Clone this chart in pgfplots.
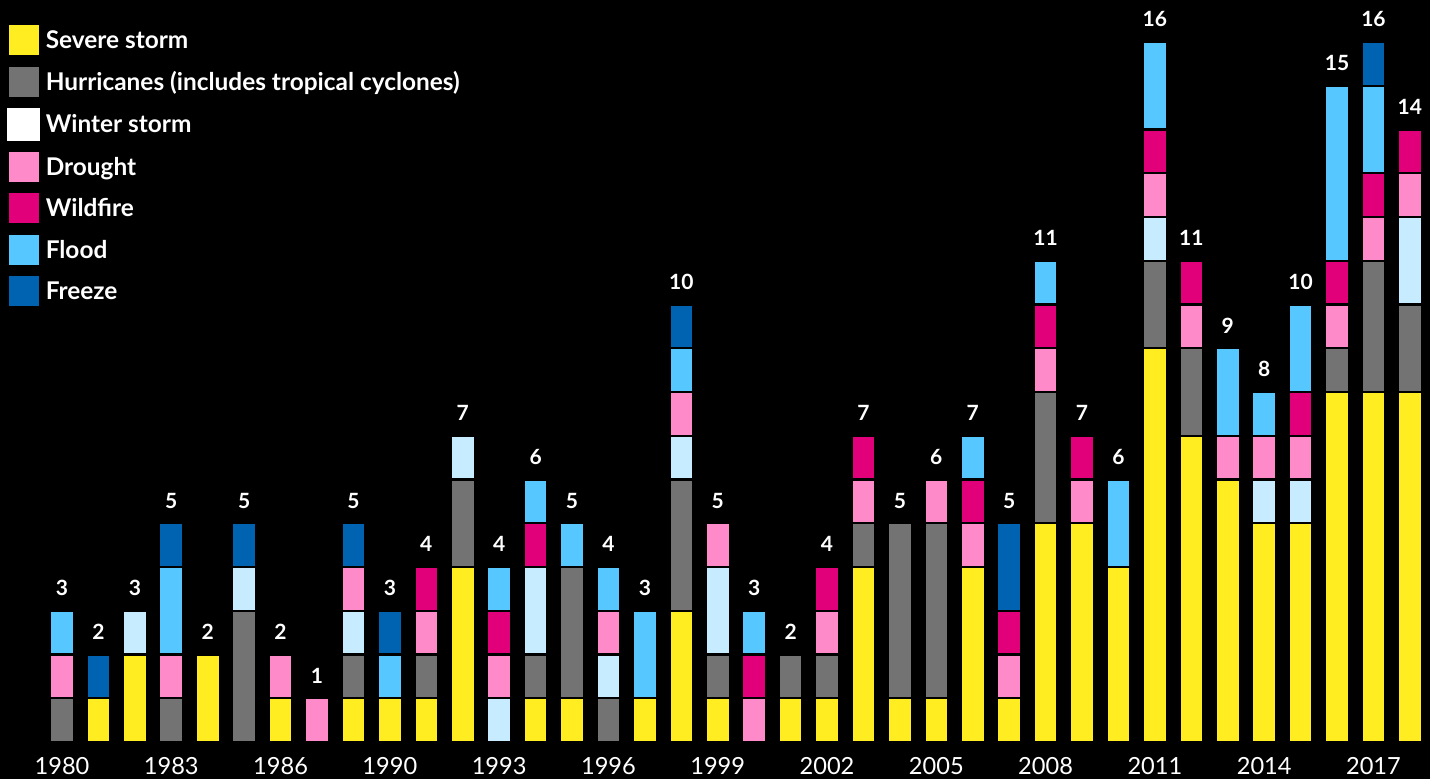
\documentclass[border=0pt]{standalone}
\usepackage{pgfplots}
\usepackage{pgfplotstable}
\pgfplotsset{compat=1.18}
\usepackage{fontspec}
\setmainfont{Lato}

\definecolor{cStorm}{HTML}{FFED22}
\definecolor{cHurr}{HTML}{727372}
\definecolor{cWinter}{HTML}{C8ECFF}
\definecolor{cDrought}{HTML}{FF8AC9}
\definecolor{cFire}{HTML}{E2007A}
\definecolor{cFlood}{HTML}{56C8FF}
\definecolor{cFreeze}{HTML}{0063B2}

% events per year, one column per type; T = total shown above the bar
\pgfplotstableread{
x  S H W D Wf Fl Fr T
0  0 1 0 1 0 1 0 3
1  1 0 0 0 0 0 1 2
2  2 0 1 0 0 0 0 3
3  0 1 0 1 0 2 1 5
4  2 0 0 0 0 0 0 2
5  0 3 1 0 0 0 1 5
6  1 0 0 1 0 0 0 2
7  0 0 0 1 0 0 0 1
8  1 1 1 1 0 0 1 5
9  1 0 0 0 0 1 1 3
10 1 1 0 1 1 0 0 4
11 4 2 1 0 0 0 0 7
12 0 0 1 1 1 1 0 4
13 1 1 2 0 1 1 0 6
14 1 3 0 0 0 1 0 5
15 0 1 1 1 0 1 0 4
16 1 0 0 0 0 2 0 3
17 3 3 1 1 0 1 1 10
18 1 1 2 1 0 0 0 5
19 0 0 0 1 1 1 0 3
20 1 1 0 0 0 0 0 2
21 1 1 0 1 1 0 0 4
22 4 1 0 1 1 0 0 7
23 1 4 0 0 0 0 0 5
24 1 4 0 1 0 0 0 6
25 4 0 0 1 1 1 0 7
26 1 0 0 1 1 0 2 5
27 5 3 0 1 1 1 0 11
28 5 0 0 1 1 0 0 7
29 4 0 0 0 0 2 0 6
30 9 2 1 1 1 2 0 16
31 7 2 0 1 1 0 0 11
32 6 0 0 1 0 2 0 9
33 5 0 1 1 0 1 0 8
34 5 0 1 1 1 2 0 10
35 8 1 0 1 1 4 0 15
36 8 3 0 1 1 2 1 16
37 8 2 2 1 1 0 0 14
}\events

\pgfplotsset{frame/.style={
  at={(0pt,0pt)}, anchor=south west,
  scale only axis, width=715pt, height=371pt,
  xmin=-1.702, xmax=37.552, ymin=0, ymax=16.96,
  clip=false,
  /pgf/number format/assume math mode=true}}

\begin{document}
\begin{tikzpicture}
\path[fill=black, use as bounding box] (0pt,-18.5pt) rectangle (715pt,371pt);
\begin{axis}[
  frame,
  ybar stacked, bar width=12pt,
  axis line style={draw=none},
  major tick length=0pt,
  ytick=\empty,
  xtick={0,3,...,36},
  xticklabels={1980,1983,1986,1990,1993,1996,1999,2002,2005,2008,2011,2014,2017},
  xticklabel style={anchor=base, yshift=-16.5pt, text=white,
    font=\fontsize{11.8}{12}\selectfont},
  every axis plot/.append style={draw=black, line width=1.2pt},
  legend image code/.code={\fill[#1, draw=none] (0pt,-7.5pt) rectangle (15pt,7.5pt);},
  legend cell align=left,
  legend style={draw=none, fill=none, text=white,
    font=\bfseries\fontsize{12.2}{13}\selectfont,
    at={(0,1)}, anchor=north west, xshift=3.5pt, yshift=-12.5pt,
    inner sep=0pt, row sep=5.7pt,
    nodes={inner sep=0pt, text height=11.8pt, text depth=3.2pt},
    /tikz/column 1/.style={column sep=3pt}},
]
\addplot[fill=cStorm] table[x=x, y=S] {\events};
\addplot[fill=cHurr] table[x=x, y=H] {\events};
\addplot[fill=cWinter,
  legend image code/.code={\fill[white] (0pt,-7.5pt) rectangle (15pt,7.5pt);}]
  table[x=x, y=W] {\events};
\addplot[fill=cDrought] table[x=x, y=D] {\events};
\addplot[fill=cFire] table[x=x, y=Wf] {\events};
\addplot[fill=cFlood] table[x=x, y=Fl] {\events};
\addplot[fill=cFreeze] table[x=x, y=Fr] {\events};
\legend{Severe storm, Hurricanes (includes tropical cyclones), Winter storm,
  Drought, Wildfire, Flood, Freeze}
\end{axis}
% totals above the bars
\begin{axis}[frame, hide axis]
\addplot[only marks, mark=none, point meta=explicit, nodes near coords,
  nodes near coords align={center},
  every node near coord/.style={anchor=base, yshift=7.5pt, inner sep=0pt,
    text=white, font=\bfseries\fontsize{10.5}{12}\selectfont}]
  table[x=x, y=T, meta=T] {\events};
\end{axis}
\end{tikzpicture}
\end{document}
